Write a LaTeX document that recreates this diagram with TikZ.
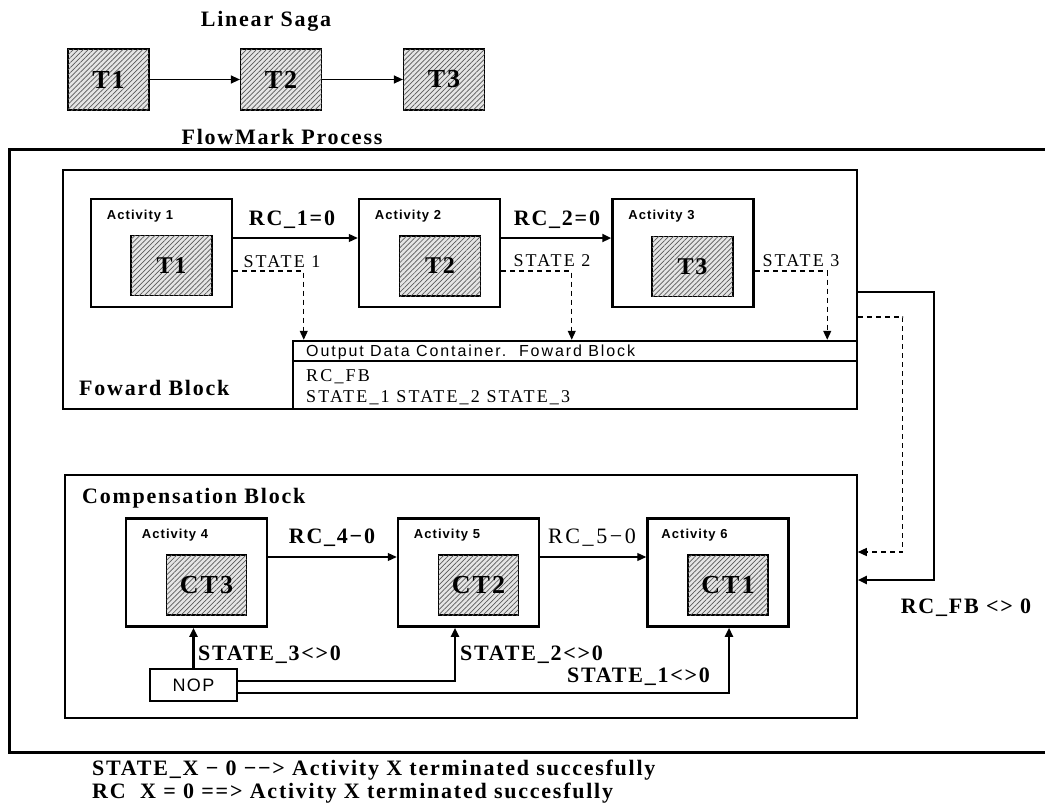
\documentclass[tikz,border=0pt]{standalone}
\usepackage{fontspec}
\setmainfont{Liberation Serif}[LetterSpace=8]
\newfontfamily\regfont{Liberation Serif}[LetterSpace=12]
\newfontfamily\actfont{Liberation Sans}[LetterSpace=8]
\newfontfamily\hdrfont{Liberation Sans}[LetterSpace=12]
\usepackage{tikz}
\usetikzlibrary{arrows.meta, patterns.meta}

\begin{document}
\begin{tikzpicture}[x=1pt, y=-1pt,
  lbl/.style={font=\fontsize{22}{26}\selectfont\bfseries, inner sep=0pt},
  reglbl/.style={font=\regfont\fontsize{18}{22}\selectfont, inner sep=0pt},
  task/.style={draw, line width=1.2pt, fill=gray!20, minimum width=81pt, minimum height=60pt, inner sep=0pt,
    postaction={pattern={Lines[angle=45, distance=3.5pt, line width=0.7pt]}, pattern color=gray!70!black},
    font=\fontsize{24}{28}\selectfont\bfseries},
  act/.style={draw, line width=2.5pt, minimum width=141pt, minimum height=108pt, inner sep=0pt},
  actlbl/.style={font=\actfont\bfseries\fontsize{13}{15}\selectfont, anchor=west, inner sep=0pt},
  arr/.style={-{Triangle[length=9pt, width=8pt]}, line width=1.2pt},
  thickarr/.style={arr, line width=2.5pt},
  stateline/.style={arr, dash pattern=on 5pt off 4pt}]

\useasboundingbox (0,0) rectangle (1045,811);

% Linear saga
\node[lbl] (sagatitle) at (266,21) {Linear Saga};
\node[task, minimum height=61pt, font=\fontsize{26}{30}\selectfont\bfseries] (s1) at (108.5,79.5) {T1};
\node[task, minimum height=61pt, font=\fontsize{26}{30}\selectfont\bfseries] (s2) at (281,79.5) {T2};
\node[task, minimum height=61pt, font=\fontsize{26}{30}\selectfont\bfseries] (s3) at (444,79.5) {T3};
\draw[arr] (s1) -- (s2);
\draw[arr] (s2) -- (s3);

% FlowMark process frame (open to the right)
\node[lbl] (fmtitle) at (282,137) {FlowMark Process};
\draw[line width=3pt] (1050,149) -- (9,149) -- (9,752) -- (1050,752);

% Forward block
\node[draw, line width=1.5pt, minimum width=794pt, minimum height=239pt] (fb) at (460,289.5) {};
\node[lbl, anchor=west] (fblbl) at (79,388) {Foward Block};

\node[act] (a1) at (161.5,253) {};
\node[act] (a2) at (429.5,253) {};
\node[act] (a3) at (683,253) {};
\node[task] (t1) at (171.5,265.5) {T1};
\node[task] (t2) at (440,266) {T2};
\node[task] (t3) at (692.5,266.5) {T3};
\node[actlbl] (al1) at ([shift={(17pt,-18pt)}]a1.north west) {Activity 1};
\node[actlbl] (al2) at ([shift={(17pt,-18pt)}]a2.north west) {Activity 2};
\node[actlbl] (al3) at ([shift={(17pt,-18pt)}]a3.north west) {Activity 3};

\draw[arr] ([yshift=15pt]a1.east) -- ([yshift=15pt]a2.west);
\draw[thickarr] ([yshift=15pt]a2.east) -- ([yshift=15pt]a3.west);
\node[lbl] (rc1) at (292,220) {RC\_1=0};
\node[lbl] (rc2) at (557,220) {RC\_2=0};

% Output data container
\node[draw, line width=2.5pt, minimum width=564pt, minimum height=68pt] (dc) at (575,375) {};
\draw[line width=1.5pt] ([yshift=-21pt]dc.north west) -- ([yshift=-21pt]dc.north east);
\node[anchor=west, inner sep=0pt, font=\hdrfont\fontsize{16}{18}\selectfont] (dchead) at (306,352) {Output Data Container.\ \ Foward Block};
\node[reglbl, anchor=west] (dcrc) at (306,377) {RC\_FB};
\node[reglbl, anchor=west] (dcst) at (306,398) {STATE\_1 STATE\_2 STATE\_3};

% States into the container
\draw[stateline] ([yshift=-18pt]a1.east) -| ([xshift=12pt]dc.north west);
\draw[stateline] ([yshift=-18pt]a2.east) -| ([xshift=280pt]dc.north west);
\draw[stateline] ([yshift=-18pt]a3.east) -| ([xshift=-31pt]dc.north east);
\node[reglbl] (st1) at (282,262) {STATE 1};
\node[reglbl] (st2) at (552,261) {STATE 2};
\node[reglbl] (st3) at (801,261) {STATE 3};

% Compensation block
\node[draw, line width=1.5pt, minimum width=792pt, minimum height=243pt] (cb) at (461,596.5) {};
\node[lbl, anchor=west] (cblbl) at (82,498) {Compensation Block};

\node[act] (a4) at (196.5,572.5) {};
\node[act] (a5) at (468.5,572.5) {};
\node[act] (a6) at (718,572.5) {};
\node[task, minimum width=80pt, font=\fontsize{26}{30}\selectfont\bfseries] (ct3) at (206.5,585) {CT3};
\node[task, minimum width=80pt, font=\fontsize{26}{30}\selectfont\bfseries] (ct2) at (478.5,585) {CT2};
\node[task, minimum width=80pt, font=\fontsize{26}{30}\selectfont\bfseries] (ct1) at (728,585) {CT1};
\node[actlbl] (al4) at ([shift={(17pt,-18pt)}]a4.north west) {Activity 4};
\node[actlbl] (al5) at ([shift={(17pt,-18pt)}]a5.north west) {Activity 5};
\node[actlbl] (al6) at ([shift={(15pt,-18pt)}]a6.north west) {Activity 6};

\draw[arr] ([yshift=15.5pt]a4.east) -- ([yshift=15.5pt]a5.west);
\draw[arr] ([yshift=15.5pt]a5.east) -- ([yshift=15.5pt]a6.west);
\node[lbl] (rc4) at (332,538) {RC\_4−0};
\node[font=\regfont\fontsize{22}{26}\selectfont, inner sep=0pt] (rc5) at (592,538) {RC\_5−0};

% NOP and its branches
\node[draw, line width=2.5pt, minimum width=87pt, minimum height=32pt, inner sep=0pt, font=\actfont\fontsize{18}{20}\selectfont] (nop) at (193.5,685) {NOP};
\draw[thickarr] (nop.north) -- (nop.north |- a4.south);
\draw[thickarr] ([yshift=4pt]nop.east) -| ([xshift=-13.5pt]a5.south);
\draw[thickarr] ([yshift=-8pt]nop.east) -| ([xshift=11pt]a6.south);
\node[lbl, anchor=west] (ns3) at (198,655) {STATE\_3<>0};
\node[lbl, anchor=west] (ns2) at (460,655) {STATE\_2<>0};
\node[lbl, anchor=west] (ns1) at (567,677) {STATE\_1<>0};

% From forward block to compensation block
\draw[thickarr] ([yshift=-2.5pt]fb.east) -- ++(76,0) |- ([yshift=16.5pt]cb.east);
\draw[stateline] ([yshift=-27.5pt]fb.east) -- ++(45,0) |- ([yshift=44.5pt]cb.east);
\node[lbl] (rcfb) at (966,608) {RC\_FB <> 0};

% Key
\node[lbl, anchor=west] (key1) at (92,770) {STATE\_X − 0 −−> Activity X terminated succesfully};
\node[lbl, anchor=west] (key2) at (92,793) {RC\ \ X = 0 ==> Activity X terminated succesfully};

\end{tikzpicture}
\end{document}
